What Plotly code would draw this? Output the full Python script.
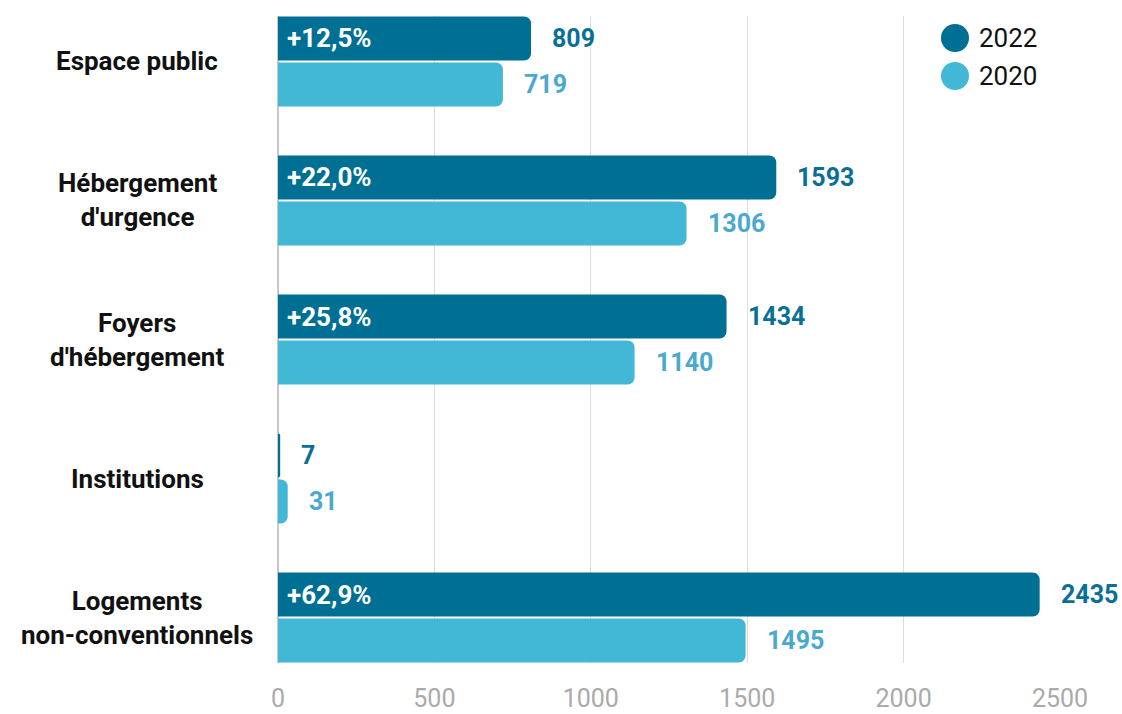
import plotly.graph_objects as go

# Categories, top to bottom
categories = [
    "Espace public",
    "Hébergement<br>d'urgence",
    "Foyers<br>d'hébergement",
    "Institutions",
    "Logements<br>non-conventionnels",
]
values_2022 = [809, 1593, 1434, 7, 2435]
values_2020 = [719, 1306, 1140, 31, 1495]
growth_labels = ["+12,5%", "+22,0%", "+25,8%", "", "+62,9%"]
tick_values = [0, 500, 1000, 1500, 2000, 2500]
series_names = ["2022", "2020"]

DARK = "#006f94"
LIGHT = "#42b7d6"
DARK_TXT = "#0a6f96"
LIGHT_TXT = "#4aa9cf"
FONT = "Roboto"

# Plot area in pixels (used to place the hand-made legend)
PL, PR, PT, PB = 278, 1060, 16, 663
PW, PH = PR - PL, PB - PT


def px_x(x):
    return (x - PL) / PW


def px_y(y):
    return (PB - y) / PH


fig = go.Figure()

fig.add_trace(go.Bar(
    y=categories, x=values_2022, orientation="h", name=series_names[0],
    marker=dict(color=DARK, line=dict(width=0)), showlegend=False,
    hoverinfo="skip",
))
fig.add_trace(go.Bar(
    y=categories, x=values_2020, orientation="h", name=series_names[1],
    marker=dict(color=LIGHT, line=dict(width=0)), showlegend=False,
    hoverinfo="skip",
))

annotations = []
for cat, v22, v20, g in zip(categories, values_2022, values_2020, growth_labels):
    annotations.append(dict(
        x=v22, y=cat, xref="x", yref="y", text=f"<b>{v22}</b>",
        showarrow=False, xanchor="left", yanchor="middle", xshift=19, yshift=23,
        font=dict(family=FONT, size=25, color=DARK_TXT),
    ))
    annotations.append(dict(
        x=v20, y=cat, xref="x", yref="y", text=f"<b>{v20}</b>",
        showarrow=False, xanchor="left", yanchor="middle", xshift=19, yshift=-23,
        font=dict(family=FONT, size=25, color=LIGHT_TXT),
    ))
    if g:
        annotations.append(dict(
            x=0, y=cat, xref="x", yref="y", text=f"<b>{g}</b>",
            showarrow=False, xanchor="left", yanchor="middle", xshift=7, yshift=23,
            font=dict(family=FONT, size=26, color="white"),
        ))
    # Category labels, centred in the left margin
    annotations.append(dict(
        x=px_x(137), y=cat, xref="paper", yref="y", text=f"<b>{cat}</b>",
        showarrow=False, xanchor="center", yanchor="middle", align="center",
        font=dict(family=FONT, size=26, color="#111111"),
    ))

# Legend: large filled circles with year labels
shapes = []
for name, color, cy in [(series_names[0], DARK, 38), (series_names[1], LIGHT, 76)]:
    r = 14
    shapes.append(dict(
        type="circle", xref="paper", yref="paper",
        x0=px_x(955 - r), x1=px_x(955 + r), y0=px_y(cy + r), y1=px_y(cy - r),
        fillcolor=color, line=dict(width=0),
    ))
    annotations.append(dict(
        x=px_x(977), y=px_y(cy), xref="paper", yref="paper", text=name,
        showarrow=False, xanchor="left", yanchor="middle",
        font=dict(family=FONT, size=26, color="#111111"),
    ))

fig.update_layout(
    width=1122, height=714,
    margin=dict(l=PL, r=1122 - PR, t=PT, b=714 - PB, autoexpand=False),
    plot_bgcolor="white", paper_bgcolor="white",
    barmode="group", bargap=0.338, bargroupgap=0.043, barcornerradius=7,
    font=dict(family=FONT),
    showlegend=False,
    xaxis=dict(
        range=[0, 2500], tickvals=tick_values, automargin=False,
        showgrid=True, gridcolor="#dcdcdc", gridwidth=1,
        zeroline=True, zerolinecolor="#c8c8c8", zerolinewidth=2,
        tickfont=dict(family=FONT, size=25, color="#aaaaaa"),
        ticks="", ticklen=0, showline=False, ticklabelstandoff=18,
    ),
    yaxis=dict(
        range=[4.327, -0.327], showticklabels=False, showgrid=False,
        zeroline=False, showline=False, ticks="", automargin=False,
    ),
    shapes=shapes,
    annotations=annotations,
)

fig.write_html("out.html")
